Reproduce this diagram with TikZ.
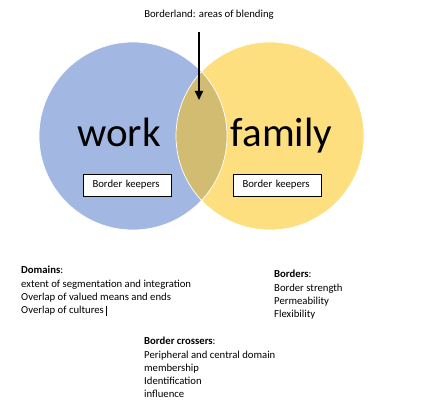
\documentclass[tikz,border=0pt]{standalone}
\usepackage{fontspec}
\setmainfont{Carlito}
\usetikzlibrary{arrows.meta}
\definecolor{cwork}{RGB}{162,184,226}
\definecolor{cfamily}{RGB}{254,223,128}
\definecolor{cblend}{RGB}{210,188,113}

\begin{document}
\begin{tikzpicture}[x=1pt,y=-1pt,font=\fontsize{10.7}{13.3}\selectfont,>=Latex,
  keeper/.style={draw,line width=0.8pt,fill=white,text width=70pt,inner xsep=9pt,
    minimum height=22pt,align=left},
  bigword/.style={font=\fontsize{41}{41}\selectfont,anchor=base},
  notes/.style={anchor=north west,inner sep=0pt,align=left}]
 \useasboundingbox (0,0) rectangle (440,414);
 \def\r{94pt}
 % ---- the two domains ----
 \coordinate (workc) at (133,136); \coordinate (famc) at (270,136);
 \fill[cwork] (workc) circle[radius=\r];
 \fill[cfamily] (famc) circle[radius=\r];
 \begin{scope}
  \clip (workc) circle[radius=\r];
  \fill[cblend] (famc) circle[radius=\r];
 \end{scope}
 \draw[white,line width=0.7pt] (workc) circle[radius=\r] (famc) circle[radius=\r];
 \node[bigword] (work) at (119,147) {work};
 \node[bigword] (family) at (281.5,147) {family};
 % ---- border keepers ----
 \node[keeper] (keepw) at (127.5,185) {Border keepers};
 \node[keeper] (keepf) at (277.5,185) {Border keepers};
 % ---- borderland arrow ----
 \node[anchor=base] (bland) at (209,18) {Borderland: areas of blending};
 \coordinate (blendtop) at (199,32); \coordinate (blendtip) at (199,100);
 \draw[line width=1.8pt,-{Triangle[length=9pt,width=8pt]}] (blendtop) -- (blendtip);
 % ---- notes below ----
 \node[notes] (domains) at (21,266) {\textbf{Domains}:\\extent of segmentation and integration\\
   Overlap of valued means and ends\\Overlap of cultures\,\rule[-2pt]{0.6pt}{10pt}};
 \node[notes] (borders) at (274,270) {\textbf{Borders}:\\Border strength\\Permeability\\Flexibility};
 \node[notes] (crossers) at (144,337) {\textbf{Border crossers}:\\Peripheral and central domain\\
   membership\\Identification\\influence};
\end{tikzpicture}
\end{document}
